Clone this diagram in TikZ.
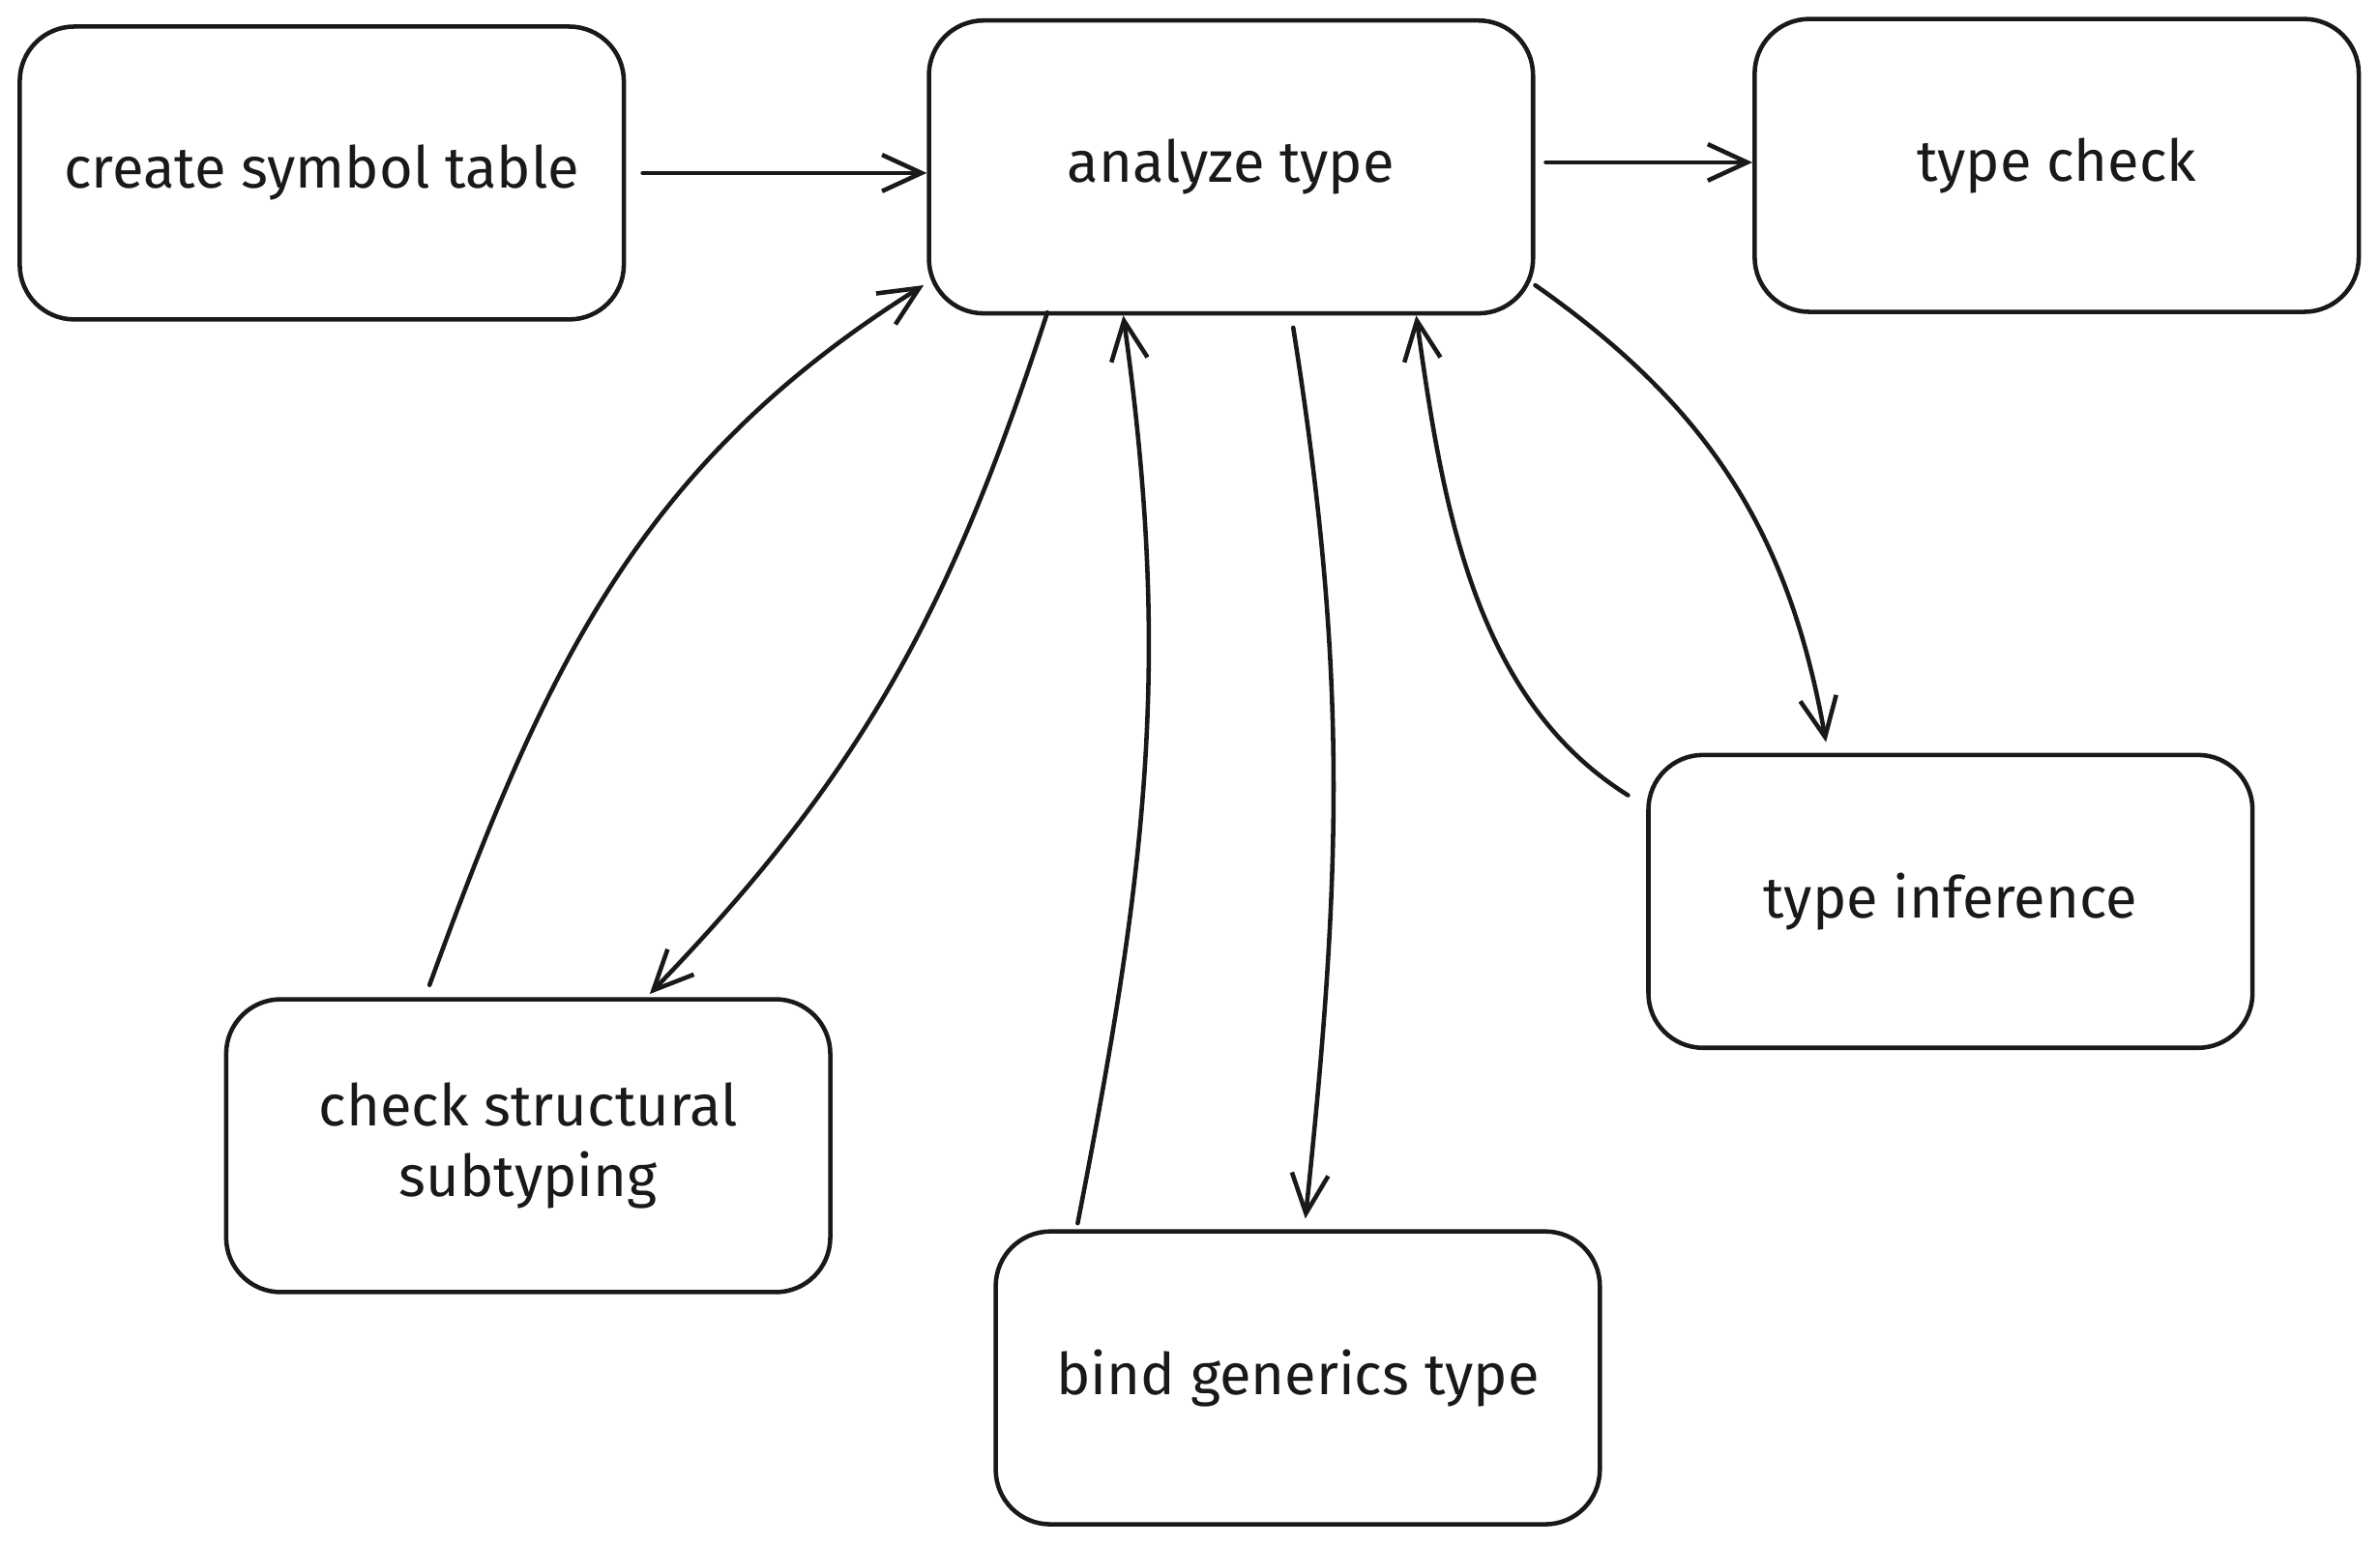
\documentclass[tikz,border=0pt]{standalone}
\usepackage{fontspec}
\setmainfont{Fira Sans}
\usetikzlibrary{arrows.meta}
\tikzset{
  box/.style={draw=black!90, line width=1.45pt, rounded corners=18pt, minimum width=199pt, minimum height=96.5pt, align=center, font=\fontsize{19}{23}\selectfont, text=black!90},
  conn/.style={draw=black!90, line width=1.45pt, line cap=round, line join=round, -{Straight Barb[length=13pt,width=12pt]}}
}
\begin{document}
\begin{tikzpicture}[x=0.5pt,y=0.5pt]
\useasboundingbox (0,0) rectangle (1568,-1018);
\node[box] (cs) at (212,-114) {create symbol table};
\node[box] (an) at (811,-110) {analyze type};
\node[box] (tc) at (1355,-109) {type check};
\node[box] (ti) at (1285,-594) {type inference};
\node[box] (ss) at (348,-755) {check structural\\subtyping};
\node[box] (bg) at (855,-908) {bind generics type};
\coordinate (antc) at ([xshift=3.5pt,yshift=1.5pt]an.east);
% connectors
\draw[conn] ([xshift=5.5pt]cs.east) -- (an.west |- cs.east);
\draw[conn] (antc) -- (tc.west |- antc);
\draw[conn] ([yshift=10pt]an.south east) to[out=-35,in=100] ([xshift=-41pt,yshift=3.5pt]ti.north);
\draw[conn] ([xshift=-6pt,yshift=-14pt]ti.north west) to[out=148,in=-82,looseness=0.9] ([xshift=61pt]an.south);
\draw[conn] ([xshift=20.5pt,yshift=-4pt]an.south) to[out=-81,in=84] ([xshift=2.5pt,yshift=3.5pt]bg.north);
\draw[conn] ([xshift=-72.5pt,yshift=2pt]bg.north) to[out=79,in=-82] ([xshift=-35.5pt]an.south);
\draw[conn] ([xshift=-60.5pt,yshift=1pt]an.south) to[out=-108,in=46] ([xshift=40pt,yshift=1pt]ss.north);
\draw[conn] ([xshift=-32.5pt,yshift=4pt]ss.north) to[out=70,in=-148] ([xshift=-1pt,yshift=10pt]an.south west);
\end{tikzpicture}
\end{document}
